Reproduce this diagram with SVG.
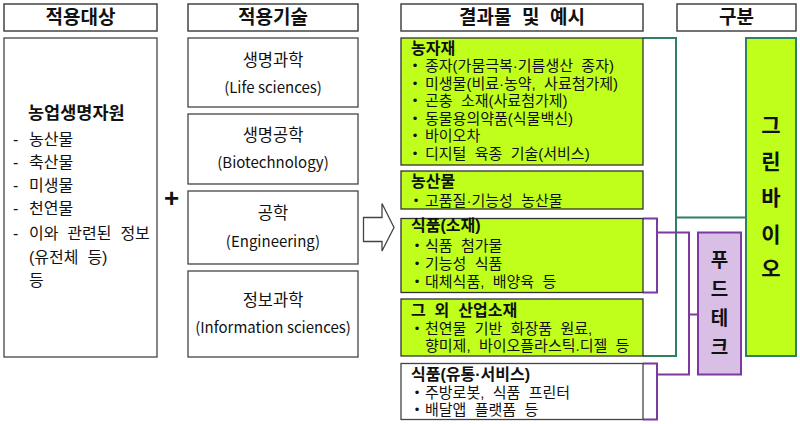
<svg xmlns="http://www.w3.org/2000/svg" width="800" height="424" viewBox="0 0 800 424">
<style>
text{font-family:"Liberation Sans","Noto Sans CJK KR",sans-serif;fill:#111;dominant-baseline:central}
.hdr{fill:#fff;stroke:#444;stroke-width:1.5}
.box{fill:#fff;stroke:#444;stroke-width:1.3}
.lime{fill:#C0FF1C;stroke:#333;stroke-width:1.3}
.ht{font-size:19px;font-weight:bold;text-anchor:middle}
.tk{font-size:16.5px;text-anchor:middle}
.te{font-family:"Noto Sans CJK KR","Noto Sans",sans-serif;font-size:15px;text-anchor:middle}
.li{font-size:16px}
.tt{font-size:16px;font-weight:bold}
.bt{font-size:15px}
.bu{font-size:13px;text-anchor:middle}
.gl{fill:none;stroke:#2F8060;stroke-width:2}
.pl{fill:none;stroke:#7A3A9E;stroke-width:2}
.vt{font-weight:bold;text-anchor:middle}
</style>
<g id="hdr-target"><rect class="hdr" x="4" y="4" width="153" height="27"/><text class="ht" x="80.5" y="17.5">적용대상</text></g>
<g id="hdr-tech"><rect class="hdr" x="188" y="4" width="170" height="27"/><text class="ht" x="273" y="17.5">적용기술</text></g>
<g id="hdr-result"><rect class="hdr" x="401" y="4" width="242" height="27"/><text class="ht" x="522" y="17.5" xml:space="preserve">결과물  및  예시</text></g>
<g id="hdr-class"><rect class="hdr" x="677" y="4" width="119" height="27"/><text class="ht" x="736.5" y="17.5">구분</text></g>

<g id="target">
<rect class="box" x="4" y="38" width="153" height="319"/>
<text class="tt" x="28" y="113" style="font-size:17.5px">농업생명자원</text>
<text class="li" x="13" y="139">-</text><text class="li" x="29" y="139">농산물</text>
<text class="li" x="13" y="162">-</text><text class="li" x="29" y="162">축산물</text>
<text class="li" x="13" y="185">-</text><text class="li" x="29" y="185">미생물</text>
<text class="li" x="13" y="208">-</text><text class="li" x="29" y="208">천연물</text>
<text class="li" x="13" y="233">-</text><text class="li" x="29" y="233" xml:space="preserve">이와  관련된  정보</text>
<text class="li" x="29" y="257" xml:space="preserve">(유전체  등)</text>
<text class="li" x="29" y="280">등</text>
</g>

<text id="plus" x="171.5" y="198" style="font-size:26px;font-weight:bold;text-anchor:middle">+</text>

<g id="tech1"><rect class="box" x="188" y="38" width="170" height="69"/><text class="tk" x="273" y="60">생명과학</text><text class="te" x="273" y="86">(Life sciences)</text></g>
<g id="tech2"><rect class="box" x="188" y="114" width="170" height="70"/><text class="tk" x="273" y="135">생명공학</text><text class="te" x="273" y="161.5">(Biotechnology)</text></g>
<g id="tech3"><rect class="box" x="188" y="191" width="170" height="73"/><text class="tk" x="273" y="213">공학</text><text class="te" x="273" y="240">(Engineering)</text></g>
<g id="tech4"><rect class="box" x="188" y="271" width="170" height="86"/><text class="tk" x="273" y="300">정보과학</text><text class="te" x="273" y="326">(Information sciences)</text></g>

<g id="arrow"><polygon points="363.5,217.5 382,217.5 382,203.5 394,227.5 382,251 382,241.5 363.5,241.5" fill="#fff" stroke="#444" stroke-width="1.3"/></g>

<g id="connectors">
<polyline class="gl" points="643,38 676,38 676,356 643,356"/>
<line class="gl" x1="676" y1="217.5" x2="746" y2="217.5"/>
<polyline class="pl" points="643,218.5 657,218.5 657,292.5 643,292.5"/>
<polyline class="pl" points="643,363.5 657,363.5 657,419.5 643,419.5"/>
<polyline class="pl" points="657,232.5 689,232.5 689,374.5 657,374.5"/>
<line class="pl" x1="689" y1="314.5" x2="698" y2="314.5"/>
</g>

<g id="r-agri">
<rect class="lime" x="401" y="38" width="242" height="127"/>
<text class="tt" x="411" y="48">농자재</text>
<text class="bu" x="415" y="65.5">•</text><text class="bt" x="425" y="65.5" xml:space="preserve">종자(가뭄극복·기름생산  종자)</text>
<text class="bu" x="415" y="83">•</text><text class="bt" x="425" y="83" xml:space="preserve">미생물(비료·농약,  사료첨가제)</text>
<text class="bu" x="415" y="100.5">•</text><text class="bt" x="425" y="100.5" xml:space="preserve">곤충  소재(사료첨가제)</text>
<text class="bu" x="415" y="118">•</text><text class="bt" x="425" y="118">동물용의약품(식물백신)</text>
<text class="bu" x="415" y="135.5">•</text><text class="bt" x="425" y="135.5">바이오차</text>
<text class="bu" x="415" y="153">•</text><text class="bt" x="425" y="153" xml:space="preserve">디지털  육종  기술(서비스)</text>
</g>
<g id="r-crop">
<rect class="lime" x="401" y="171" width="242" height="38"/>
<text class="tt" x="411" y="181.5">농산물</text>
<text class="bu" x="416" y="200">•</text><text class="bt" x="425" y="200" xml:space="preserve">고품질·기능성  농산물</text>
</g>
<g id="r-food">
<rect class="lime" x="401" y="218.5" width="242" height="74"/>
<text class="tt" x="411" y="225.5">식품(소재)</text>
<text class="bu" x="417" y="245">•</text><text class="bt" x="425" y="245" xml:space="preserve">식품  첨가물</text>
<text class="bu" x="417" y="263.5">•</text><text class="bt" x="425" y="263.5" xml:space="preserve">기능성  식품</text>
<text class="bu" x="417" y="281.5">•</text><text class="bt" x="425" y="281.5" xml:space="preserve">대체식품,  배양육  등</text>
</g>
<g id="r-ind">
<rect class="lime" x="401" y="299" width="242" height="57"/>
<text class="tt" x="411" y="310.5" xml:space="preserve">그  외  산업소재</text>
<text class="bu" x="417" y="328.5">•</text><text class="bt" x="425" y="328.5" xml:space="preserve">천연물  기반  화장품  원료,</text>
<text class="bt" x="425" y="345.5" xml:space="preserve">향미제,  바이오플라스틱.디젤  등</text>
</g>
<g id="r-service">
<rect class="box" x="401" y="363.5" width="242" height="56"/>
<text class="tt" x="411" y="374">식품(유통·서비스)</text>
<text class="bu" x="417" y="392">•</text><text class="bt" x="425" y="392" xml:space="preserve">주방로봇,  식품  프린터</text>
<text class="bu" x="417" y="409">•</text><text class="bt" x="425" y="409" xml:space="preserve">배달앱  플랫폼  등</text>
</g>

<g id="greenbio">
<rect x="746" y="38" width="50" height="318" fill="#C0FF1C" stroke="#2F8060" stroke-width="2"/>
<text class="vt" x="771" y="125" style="font-size:21px">그</text>
<text class="vt" x="771" y="161" style="font-size:21px">린</text>
<text class="vt" x="771" y="197" style="font-size:21px">바</text>
<text class="vt" x="771" y="234" style="font-size:21px">이</text>
<text class="vt" x="771" y="268" style="font-size:21px">오</text>
</g>
<g id="foodtech">
<rect x="698" y="232.5" width="43" height="142" fill="#D9BFE6" stroke="#7A3A9E" stroke-width="2"/>
<text class="vt" x="719.5" y="260" style="font-size:19px">푸</text>
<text class="vt" x="719.5" y="289" style="font-size:19px">드</text>
<text class="vt" x="719.5" y="318" style="font-size:19px">테</text>
<text class="vt" x="719.5" y="347" style="font-size:19px">크</text>
</g>
</svg>
